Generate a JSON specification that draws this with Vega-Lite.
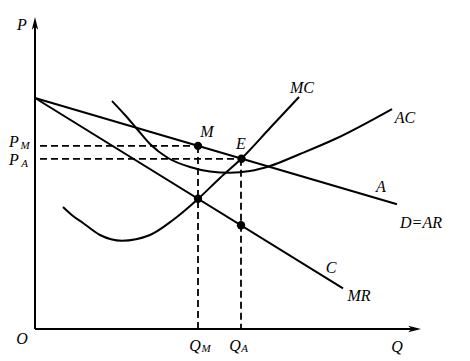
{
  "$schema": "https://vega.github.io/schema/vega-lite/v6.json",
  "width": 470,
  "height": 361,
  "autosize": {"type": "fit", "contains": "padding"},
  "padding": 0,
  "background": "white",
  "config": {"view": {"stroke": null}},
  "datasets": {
    "curves": [
      {"curve": "D", "q": 0, "p": 23.1},
      {"curve": "D", "q": 36.2, "p": 12.47},
      {"curve": "MR", "q": 0, "p": 23.1},
      {"curve": "MR", "q": 30.8, "p": 4.07},
      {"curve": "MC", "q": 2.8, "p": 12.2},
      {"curve": "MC", "q": 3.8, "p": 11.3},
      {"curve": "MC", "q": 4.8, "p": 10.6},
      {"curve": "MC", "q": 6.5, "p": 9.4},
      {"curve": "MC", "q": 8.7, "p": 8.83},
      {"curve": "MC", "q": 11.5, "p": 9.4},
      {"curve": "MC", "q": 13.8, "p": 10.9},
      {"curve": "MC", "q": 16.3, "p": 13.0},
      {"curve": "MC", "q": 18.5, "p": 15.1},
      {"curve": "MC", "q": 20.7, "p": 17.1},
      {"curve": "MC", "q": 23.5, "p": 20.1},
      {"curve": "MC", "q": 26.4, "p": 23.2},
      {"curve": "AC", "q": 7.7, "p": 22.8},
      {"curve": "AC", "q": 9.0, "p": 21.4},
      {"curve": "AC", "q": 10.2, "p": 20.0},
      {"curve": "AC", "q": 11.5, "p": 18.5},
      {"curve": "AC", "q": 13.3, "p": 17.1},
      {"curve": "AC", "q": 15.5, "p": 16.2},
      {"curve": "AC", "q": 17.5, "p": 15.75},
      {"curve": "AC", "q": 19.5, "p": 15.63},
      {"curve": "AC", "q": 21.5, "p": 15.8},
      {"curve": "AC", "q": 23.5, "p": 16.3},
      {"curve": "AC", "q": 26.5, "p": 17.5},
      {"curve": "AC", "q": 30.0, "p": 19.0},
      {"curve": "AC", "q": 35.7, "p": 22.0}
    ],
    "axes": [
      {"q": 0, "p": 0, "q2": 0, "p2": 30.6},
      {"q": 0, "p": 0, "q2": 38.1, "p2": 0}
    ],
    "arrowUp": [{"q": 0, "p": 31.2}],
    "arrowRight": [{"q": 38.6, "p": 0}],
    "dashes": [
      {"q": 0.5, "p": 18.31, "q2": 16.3, "p2": 18.31},
      {"q": 0.5, "p": 17.02, "q2": 20.7, "p2": 17.02},
      {"q": 16.3, "p": 18.31, "q2": 16.3, "p2": 0},
      {"q": 20.6, "p": 17.02, "q2": 20.6, "p2": 0}
    ],
    "dots": [
      {"q": 16.3, "p": 18.31},
      {"q": 20.65, "p": 17.02},
      {"q": 16.3, "p": 13.03},
      {"q": 20.6, "p": 10.37}
    ],
    "labels": [
      {"t": "P", "q": -1.3, "p": 30.4},
      {"t": "O", "q": -1.3, "p": -1.0},
      {"t": "Q", "q": 36.2, "p": -1.8},
      {"t": "M", "q": 17.2, "p": 19.7},
      {"t": "E", "q": 20.6, "p": 18.5},
      {"t": "MC", "q": 26.7, "p": 24.1},
      {"t": "AC", "q": 37.0, "p": 21.1},
      {"t": "A", "q": 34.6, "p": 14.2},
      {"t": "D=AR", "q": 38.6, "p": 10.6},
      {"t": "C", "q": 29.6, "p": 6.1},
      {"t": "MR", "q": 32.4, "p": 3.3},
      {"t": "P", "q": -2.1, "p": 18.7},
      {"t": "P", "q": -2.1, "p": 16.9},
      {"t": "Q", "q": 16.0, "p": -1.7},
      {"t": "Q", "q": 20.0, "p": -1.7}
    ],
    "subs": [
      {"t": "M", "q": -1.0, "p": 18.3},
      {"t": "A", "q": -1.05, "p": 16.5},
      {"t": "M", "q": 17.1, "p": -2.0},
      {"t": "A", "q": 20.95, "p": -2.0}
    ]
  },
  "encoding": {
    "x": {"field": "q", "type": "quantitative", "scale": {"domain": [-3.5, 43.5], "nice": false, "zero": false}, "axis": null},
    "y": {"field": "p", "type": "quantitative", "scale": {"domain": [-3.2, 32.9], "nice": false, "zero": false}, "axis": null}
  },
  "layer": [
    {
      "data": {"name": "axes"},
      "mark": {"type": "rule", "color": "black", "strokeWidth": 2},
      "encoding": {"x2": {"field": "q2"}, "y2": {"field": "p2"}}
    },
    {
      "data": {"name": "arrowUp"},
      "mark": {"type": "point", "filled": true, "color": "black", "opacity": 1, "size": 64, "shape": "M0,0L0.8,3.2L0,2.4L-0.8,3.2Z"}
    },
    {
      "data": {"name": "arrowRight"},
      "mark": {"type": "point", "filled": true, "color": "black", "opacity": 1, "size": 64, "shape": "M0,0L-3.2,-0.8L-2.4,0L-3.2,0.8Z"}
    },
    {
      "data": {"name": "dashes"},
      "mark": {"type": "rule", "color": "black", "strokeWidth": 1.8, "strokeDash": [7, 4]},
      "encoding": {"x2": {"field": "q2"}, "y2": {"field": "p2"}}
    },
    {
      "data": {"name": "curves"},
      "mark": {"type": "line", "color": "black", "strokeWidth": 2, "interpolate": "monotone"},
      "encoding": {"detail": {"field": "curve"}}
    },
    {
      "data": {"name": "dots"},
      "mark": {"type": "circle", "color": "black", "opacity": 1, "size": 70}
    },
    {
      "data": {"name": "labels"},
      "mark": {"type": "text", "font": "Liberation Serif", "fontStyle": "italic", "fontSize": 16, "align": "center", "baseline": "middle", "color": "black"},
      "encoding": {"text": {"field": "t"}}
    },
    {
      "data": {"name": "subs"},
      "mark": {"type": "text", "font": "Liberation Serif", "fontStyle": "italic", "fontSize": 11, "align": "center", "baseline": "middle", "color": "black"},
      "encoding": {"text": {"field": "t"}}
    }
  ]
}
